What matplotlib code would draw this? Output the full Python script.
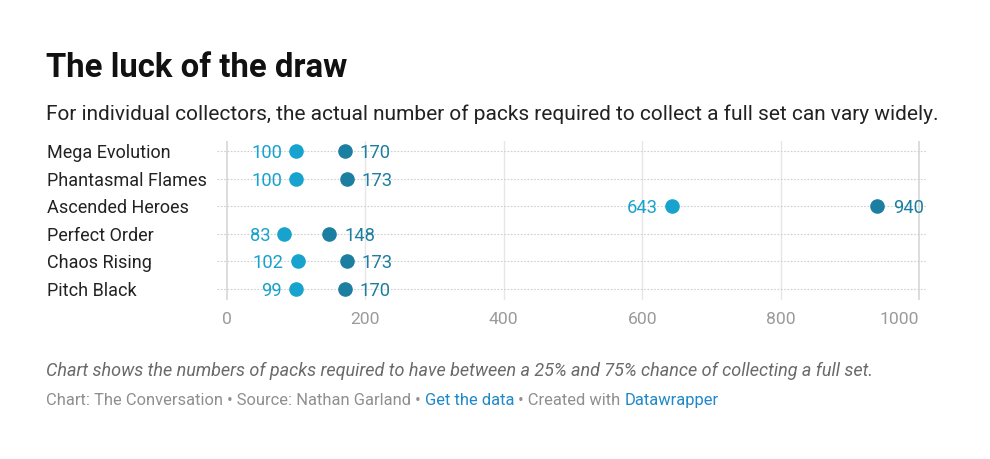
import matplotlib.pyplot as plt
import matplotlib.transforms as mtransforms

plt.rcParams['font.family'] = ['Roboto', 'DejaVu Sans']

sets = ['Mega Evolution', 'Phantasmal Flames', 'Ascended Heroes',
        'Perfect Order', 'Chaos Rising', 'Pitch Black']
p25 = [100, 100, 643, 83, 102, 99]
p75 = [170, 173, 940, 148, 173, 170]
xticks = [0, 200, 400, 600, 800, 1000]

light = '#18a2ce'
dark = '#1c7ea0'

W, H = 990, 459
fig = plt.figure(figsize=(W / 100, H / 100), dpi=100)

# axes placed in pixel units of the figure
left, right, top, bottom = 217, 927, 141, 300
ax = fig.add_axes([left / W, 1 - bottom / H, (right - left) / W, (bottom - top) / H])
x0, x1000 = 227, 919
scale = (x1000 - x0) / 1000
ax.set_xlim((left - x0) / scale, (right - x0) / scale)
ax.set_ylim(5.4, -0.36)

for s in ax.spines.values():
    s.set_visible(False)
ax.set_yticks([])
ax.set_xticks(xticks)
ax.tick_params(axis='x', length=0, pad=9, labelsize=12.6, labelcolor='#9a9a9a')
# last label sits flush right against its gridline
ax.get_xticklabels()[-1].set_horizontalalignment('right')

for t in xticks:
    if t in (0, 1000):
        ax.axvline(t, color='#dadada', lw=1.3, zorder=1)
    else:
        ax.axvline(t, color='#e6e6e6', lw=1, zorder=1)

rows = list(range(len(sets)))
for r in rows:
    ax.axhline(r, color='#cfcfcf', lw=0.8, ls=(0, (1.5, 1.5)), zorder=2)

ax.plot(p25, rows, 'o', color=light, ms=10.5, mew=0, zorder=4, clip_on=False)
ax.plot(p75, rows, 'o', color=dark, ms=10.5, mew=0, zorder=4, clip_on=False)

for r, a, b in zip(rows, p25, p75):
    ax.annotate(str(a), (a, r), xytext=(-10, 0), textcoords='offset points',
                ha='right', va='center_baseline', fontsize=13.2, color=light)
    ax.annotate(str(b), (b, r), xytext=(11, 0), textcoords='offset points',
                ha='left', va='center_baseline', fontsize=13.2, color=dark)

trans = mtransforms.blended_transform_factory(fig.transFigure, ax.transData)
for r, name in zip(rows, sets):
    ax.text(47 / W, r, name, transform=trans, ha='left', va='center_baseline',
            fontsize=12.95, color='#222222')

fig.text(46 / W, 1 - 77 / H, 'The luck of the draw', fontsize=23.7, fontweight='bold',
         color='#111111', va='baseline')
fig.text(46 / W, 1 - 120 / H,
         'For individual collectors, the actual number of packs required to collect a full set can vary widely.',
         fontsize=15.0, color='#222222', va='baseline')
fig.text(46 / W, 1 - 376 / H,
         'Chart shows the numbers of packs required to have between a 25% and 75% chance of collecting a full set.',
         fontsize=13.0, style='italic', color='#6a6a6a', va='baseline')

# footer built piece by piece, each part starting where the last one ends
grey, blue = '#8f8f8f', '#1f88c8'
parts = [('Chart: The Conversation \u2022 Source: Nathan Garland \u2022 ', grey),
         ('Get the data', blue),
         (' \u2022 Created with ', grey),
         ('Datawrapper', blue)]
prev = fig.text(46 / W, 1 - 405 / H, parts[0][0], fontsize=11.9,
                color=parts[0][1], va='baseline')
for txt, col in parts[1:]:
    prev = fig.add_artist(plt.Annotation(txt, xy=(1, 0), xycoords=prev,
                                         ha='left', va='bottom',
                                         fontsize=11.9, color=col))

fig.savefig('out.png', dpi=100)
